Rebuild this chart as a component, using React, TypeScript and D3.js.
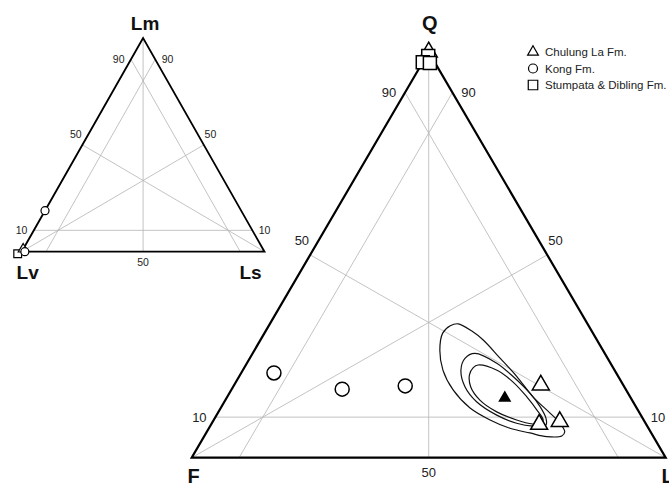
import React from 'react';
import * as d3 from 'd3';

// ---------- Data ----------
// Main QFL diagram, compositions as [Q, F, L] (%)
const chulungQFL: number[][] = [[100, 0, 0], [17.9, 17.4, 64.7], [8.9, 17.9, 73.2], [8.2, 22.6, 69.2]];
const chulungMeanQFL: number[][] = [[14.7, 26.6, 58.7]];
const kongQFL: number[][] = [[20.9, 72.2, 6.9], [16.9, 59.8, 23.3], [17.7, 46.1, 36.2]];
const stumpataQFL: number[][] = [[99, 0.6, 0.4], [97.5, 2.5, 0], [97.3, 1.1, 1.6]];

// Confidence contours around the Chulung La mean, as [Q, L] (%)
const contourOuter: number[][] = [
  [33.0, 39.7], [31.2, 43.5], [29.0, 47.0], [24.6, 52.7], [20.0, 58.6], [15.0, 64.5], [11.0, 70.1], [8.55, 73.4],
  [6.4, 75.5], [5.35, 75.4], [5.2, 72.3], [6.1, 68.3], [7.25, 63.5], [9.3, 58.3], [12.25, 52.6],
  [16.7, 46.8], [21.6, 42.2], [26.5, 39.1], [30.7, 37.6], [32.5, 38.3],
];
const contourMiddle: number[][] = [
  [25.7, 46.9], [23.3, 52.7], [20.0, 57.8], [15.9, 63.4], [12.6, 67.2], [9.7, 69.9], [8.06, 70.7],
  [7.8, 68.1], [8.5, 64.3], [10.5, 59.1], [13.8, 53.2], [17.5, 48.9], [21.6, 46.0], [24.5, 45.4],
];
const contourInner: number[][] = [
  [22.85, 49.0], [21.6, 53.5], [18.7, 58.4], [15.0, 63.2], [11.8, 66.9], [9.3, 69.5], [8.3, 69.5],
  [8.3, 67.8], [9.3, 63.9], [11.3, 58.7], [14.2, 53.7], [17.5, 50.1], [20.4, 48.4], [22.2, 48.3],
];

// Lithic diagram, compositions as [Lm, Lv, Ls] (%)
const kongLm: number[][] = [[19.2, 80.8, 0], [0, 98.7, 1.3]];
const chulungLm: number[][] = [[1.2, 98.8, 0]];
const stumpataLm: number[][] = [[0, 100, 0]];

const mainVertexLabels = ['Q', 'F', 'L'];
const smallVertexLabels = ['Lm', 'Lv', 'Ls'];
const legendLabels = ['Chulung La Fm.', 'Kong Fm.', 'Stumpata & Dibling Fm.'];
const gridLevel = 10;
const tickLow = '10';
const tickMid = '50';
const tickHigh = '90';

// ---------- Helpers ----------
type Proj = (c: number[]) => [number, number];
const makeProj = (xs: d3.ScaleLinear<number, number>, ys: d3.ScaleLinear<number, number>): Proj =>
  (c: number[]) => {
    const s = c[0] + c[1] + c[2];
    const A = (c[0] / s) * 100;
    const C = (c[2] / s) * 100;
    return [xs(C + A / 2), ys(A)];
  };

const FONT = '"Liberation Sans", Arial, Helvetica, sans-serif';
const GRID = '#b4b4b4';

function Ternary({ proj, lw }: { proj: Proj; lw: number }) {
  const g = gridLevel;
  const lines: number[][][] = [
    [[g, 100 - g, 0], [g, 0, 100 - g]],
    [[100 - g, g, 0], [0, g, 100 - g]],
    [[100 - g, 0, g], [0, 100 - g, g]],
    [[100, 0, 0], [0, 50, 50]],
    [[0, 100, 0], [50, 0, 50]],
    [[0, 0, 100], [50, 50, 0]],
  ];
  const tri = [[100, 0, 0], [0, 100, 0], [0, 0, 100]].map(proj);
  return (
    <g>
      {lines.map((l, i) => {
        const [a, b] = l.map(proj);
        return <line key={i} x1={a[0]} y1={a[1]} x2={b[0]} y2={b[1]} stroke={GRID} strokeWidth={0.8} />;
      })}
      <polygon points={tri.map((p) => p.join(',')).join(' ')} fill="none" stroke="#000" strokeWidth={lw} strokeLinejoin="miter" />
    </g>
  );
}

function Ticks({ proj, fs, off }: { proj: Proj; fs: number; off: number }) {
  const g = gridLevel;
  const items: { c: number[]; t: string; anchor: string; dx: number; dy: number }[] = [
    { c: [100 - g, g, 0], t: tickHigh, anchor: 'end', dx: -off * 0.8, dy: 0 },
    { c: [100 - g, 0, g], t: tickHigh, anchor: 'start', dx: off * 0.8, dy: 0 },
    { c: [50, 50, 0], t: tickMid, anchor: 'end', dx: -off * 0.1, dy: -off * 1.3 },
    { c: [50, 0, 50], t: tickMid, anchor: 'start', dx: off * 0.1, dy: -off * 1.3 },
    { c: [g, 100 - g, 0], t: tickLow, anchor: 'end', dx: -off * 0.8, dy: 0 },
    { c: [g, 0, 100 - g], t: tickLow, anchor: 'start', dx: off * 0.8, dy: 0 },
    { c: [0, 50, 50], t: tickMid, anchor: 'middle', dx: 0, dy: off * 1.3 },
  ];
  return (
    <g fontFamily={FONT} fontSize={fs} fill="#222">
      {items.map((it, i) => {
        const [x, y] = proj(it.c);
        return (
          <text key={i} x={x + it.dx} y={y + it.dy} textAnchor={it.anchor} dominantBaseline="central">
            {it.t}
          </text>
        );
      })}
    </g>
  );
}

const symPath = (type: d3.SymbolType, size: number) => d3.symbol().type(type).size(size)() || '';

export default function App() {
  // Main triangle scales
  const mx = d3.scaleLinear().domain([0, 100]).range([191.7, 665.7]);
  const my = d3.scaleLinear().domain([0, 100]).range([457.7, 52]);
  const mp = makeProj(mx, my);
  // Small triangle scales
  const sx = d3.scaleLinear().domain([0, 100]).range([21.7, 264.5]);
  const sy = d3.scaleLinear().domain([0, 100]).range([251.7, 38]);
  const sp = makeProj(sx, sy);

  const contourLine = d3
    .line<number[]>()
    .x((d) => mp([d[0], 100 - d[0] - d[1], d[1]])[0])
    .y((d) => mp([d[0], 100 - d[0] - d[1], d[1]])[1])
    .curve(d3.curveCatmullRomClosed.alpha(0.5));

  const triBig = symPath(d3.symbolTriangle, 125);
  const sqBig = symPath(d3.symbolSquare, 169);
  const triMean = symPath(d3.symbolTriangle, 48);
  const triSmall = symPath(d3.symbolTriangle, 42);
  const sqSmall = symPath(d3.symbolSquare, 60);
  const triLeg = symPath(d3.symbolTriangle, 50);
  const sqLeg = symPath(d3.symbolSquare, 90);

  const mTop = mp([100, 0, 0]);
  const mLeft = mp([0, 100, 0]);
  const mRight = mp([0, 0, 100]);
  const sTop = sp([100, 0, 0]);
  const sLeft = sp([0, 100, 0]);
  const sRight = sp([0, 0, 100]);

  return (
    <svg width={669} height={484} style={{ position: 'absolute', left: 0, top: 0, background: '#fff' }}>
      {/* small lithic triangle */}
      <Ternary proj={sp} lw={1.8} />
      <Ticks proj={sp} fs={10.5} off={8} />
      <g fontFamily={FONT} fontWeight="bold" fontSize={19} fill="#111">
        <text x={sTop[0] + 2} y={sTop[1] - 8} textAnchor="middle">{smallVertexLabels[0]}</text>
        <text x={sLeft[0] + 6} y={sLeft[1] + 27} textAnchor="middle">{smallVertexLabels[1]}</text>
        <text x={sRight[0] - 14} y={sRight[1] + 27} textAnchor="middle">{smallVertexLabels[2]}</text>
      </g>
      <g stroke="#000" strokeWidth={1.2} fill="#fff">
        {stumpataLm.map((c, i) => {
          const [x, y] = sp(c);
          return <path key={'ss' + i} d={sqSmall} transform={`translate(${x - 4},${y + 2})`} />;
        })}
        {chulungLm.map((c, i) => {
          const [x, y] = sp(c);
          return <path key={'st' + i} d={triSmall} transform={`translate(${x},${y})`} />;
        })}
        {kongLm.map((c, i) => {
          const [x, y] = sp(c);
          return <circle key={'sc' + i} cx={x} cy={y} r={4} />;
        })}
      </g>

      {/* main QFL triangle */}
      <Ternary proj={mp} lw={2.2} />
      <Ticks proj={mp} fs={13} off={11} />
      <g fontFamily={FONT} fontWeight="bold" fontSize={20} fill="#111">
        <text x={mTop[0] + 1} y={mTop[1] - 22} textAnchor="middle">{mainVertexLabels[0]}</text>
        <text x={mLeft[0] + 2} y={mLeft[1] + 25} textAnchor="middle">{mainVertexLabels[1]}</text>
        <text x={mRight[0] + 2} y={mRight[1] + 25} textAnchor="middle">{mainVertexLabels[2]}</text>
      </g>

      <g fill="none" stroke="#111" strokeWidth={1.2}>
        {[contourOuter, contourMiddle, contourInner].map((c, i) => (
          <path key={i} d={contourLine(c) || ''} />
        ))}
      </g>

      <g stroke="#000" strokeWidth={1.5} fill="#fff">
        {chulungQFL.map((c, i) => {
          const [x, y] = mp(c);
          return <path key={'t' + i} d={triBig} transform={`translate(${x},${y})`} />;
        })}
        {stumpataQFL.map((c, i) => {
          const [x, y] = mp(c);
          return <path key={'s' + i} d={sqBig} transform={`translate(${x},${y})`} />;
        })}
        {kongQFL.map((c, i) => {
          const [x, y] = mp(c);
          return <circle key={'c' + i} cx={x} cy={y} r={7} />;
        })}
        {chulungMeanQFL.map((c, i) => {
          const [x, y] = mp(c);
          return <path key={'m' + i} d={triMean} transform={`translate(${x},${y})`} fill="#000" />;
        })}
      </g>

      {/* legend */}
      <g transform="translate(533,52)" fontFamily={FONT} fontSize={11.5} fill="#222">
        <path d={triLeg} stroke="#000" strokeWidth={1.2} fill="#fff" />
        <text x={12} y={0} dominantBaseline="central">{legendLabels[0]}</text>
        <circle cx={0} cy={16.5} r={4.5} stroke="#000" strokeWidth={1.2} fill="#fff" />
        <text x={12} y={16.5} dominantBaseline="central">{legendLabels[1]}</text>
        <path d={sqLeg} transform="translate(0,33)" stroke="#000" strokeWidth={1.2} fill="#fff" />
        <text x={12} y={33} dominantBaseline="central">{legendLabels[2]}</text>
      </g>
    </svg>
  );
}
